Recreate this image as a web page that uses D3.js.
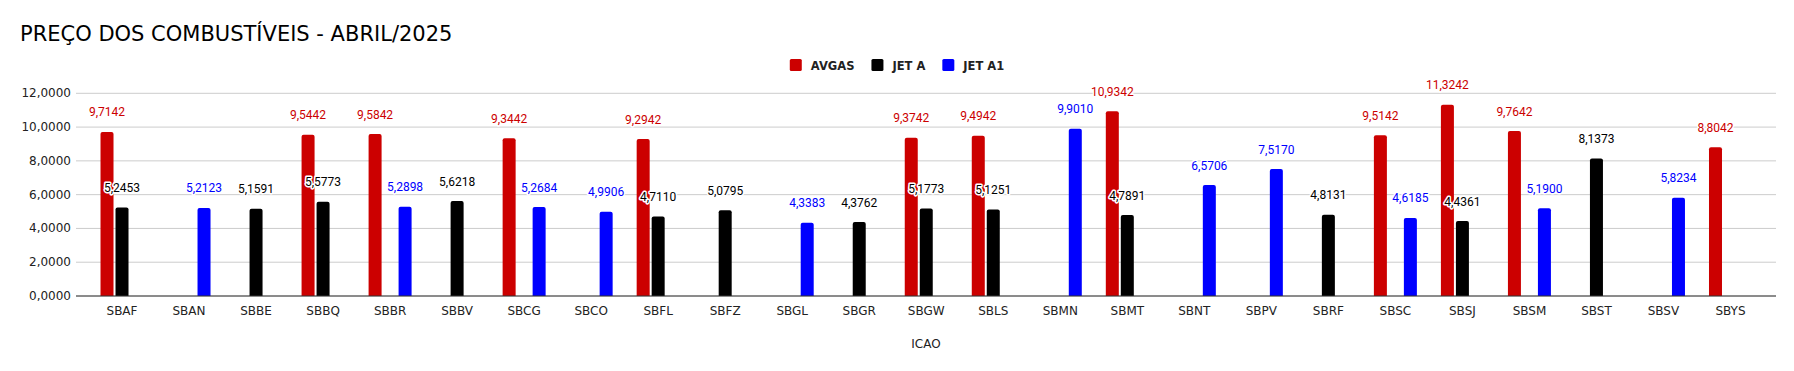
<!DOCTYPE html>
<html>
<head>
<meta charset="utf-8">
<script src="https://cdn.jsdelivr.net/npm/d3@7"></script>
<style>
  body { margin: 0; background: #fff; }
  svg { display: block; }
</style>
</head>
<body>
<script>
// categories (ICAO) and series
var icao = ['SBAF','SBAN','SBBE','SBBQ','SBBR','SBBV','SBCG','SBCO','SBFL','SBFZ','SBGL','SBGR','SBGW',
            'SBLS','SBMN','SBMT','SBNT','SBPV','SBRF','SBSC','SBSJ','SBSM','SBST','SBSV','SBYS'];
var series = ['AVGAS', 'JET A', 'JET A1'];
var colors = ['#cc0000', '#000000', '#0000ff'];

var avgas = [9.7142, null, null, 9.5442, 9.5842, null, 9.3442, null, 9.2942, null, null, null, 9.3742,
             9.4942, null, 10.9342, null, null, null, 9.5142, 11.3242, 9.7642, null, null, 8.8042];
var jetA = [5.2453, null, 5.1591, 5.5773, null, 5.6218, null, null, 4.7110, 5.0795, null, 4.3762, 5.1773,
            5.1251, null, 4.7891, null, null, 4.8131, null, 4.4361, null, 8.1373, null, null];
var jetA1 = [null, 5.2123, null, null, 5.2898, null, 5.2684, 4.9906, null, null, 4.3383, null, null,
             null, 9.9010, null, 6.5706, 7.5170, null, 4.6185, null, 5.1900, null, 5.8234, null];
var yTicks = [0, 2, 4, 6, 8, 10, 12];

var W = 1794, H = 371;
var svg = d3.select('body').append('svg')
  .attr('width', W)
  .attr('height', H);

var ptBR = d3.formatLocale({decimal: ',', thousands: '.', grouping: [3], currency: ['R$', '']});
var fmt = ptBR.format('.4f');

var x0 = d3.scaleBand().domain(icao).range([88.5, 1764]);
var x1 = d3.scaleBand().domain(series).range([-21.5, 21.5]).paddingInner(0.133);
var y = d3.scaleLinear().domain([0, 12]).range([296, 93.3]);

// title
svg.append('text')
  .attr('x', 20).attr('y', 41)
  .style('font-family', 'DejaVu Sans').style('font-size', '21px')
  .attr('fill', '#000')
  .text('PREÇO DOS COMBUSTÍVEIS - ABRIL/2025');

// gridlines + y labels
svg.append('g').selectAll('line').data(yTicks).enter().append('line')
  .attr('x1', 76).attr('x2', 1776)
  .attr('y1', function(d) { return y(d); })
  .attr('y2', function(d) { return y(d); })
  .attr('stroke', '#cccccc').attr('stroke-width', 1);

svg.append('g').selectAll('text').data(yTicks).enter().append('text')
  .attr('x', 71)
  .attr('y', function(d) { return y(d) + 4; })
  .attr('text-anchor', 'end')
  .style('font-family', 'DejaVu Sans').style('font-size', '12px')
  .attr('fill', '#222')
  .text(function(d) { return fmt(d); });

// bars
var rows = [];
[avgas, jetA, jetA1].forEach(function(vals, si) {
  vals.forEach(function(v, i) {
    if (v != null) rows.push({cat: icao[i], s: series[si], color: colors[si], v: v});
  });
});

var barW = x1.bandwidth();
var barPath = function(d) {
  var xl = x0(d.cat) + x0.bandwidth() / 2 + x1(d.s);
  var yt = y(d.v), yb = y(0), r = 2;
  return 'M' + xl + ',' + yb +
    'V' + (yt + r) +
    'Q' + xl + ',' + yt + ' ' + (xl + r) + ',' + yt +
    'H' + (xl + barW - r) +
    'Q' + (xl + barW) + ',' + yt + ' ' + (xl + barW) + ',' + (yt + r) +
    'V' + yb + 'Z';
};

svg.append('g').selectAll('path').data(rows).enter().append('path')
  .attr('d', barPath)
  .attr('fill', function(d) { return d.color; });

// baseline
svg.append('line')
  .attr('x1', 76).attr('x2', 1776)
  .attr('y1', y(0)).attr('y2', y(0))
  .attr('stroke', '#333').attr('stroke-width', 1.2);

// x labels
svg.append('g').selectAll('text').data(icao).enter().append('text')
  .attr('x', function(d) { return x0(d) + x0.bandwidth() / 2; })
  .attr('y', 315)
  .attr('text-anchor', 'middle')
  .style('font-family', 'DejaVu Sans').style('font-size', '12px')
  .attr('fill', '#222')
  .text(function(d) { return d; });

svg.append('text')
  .attr('x', 926).attr('y', 348)
  .attr('text-anchor', 'middle')
  .style('font-family', 'DejaVu Sans').style('font-size', '12px')
  .attr('fill', '#222')
  .text('ICAO');

// data labels with white halo
svg.append('g').selectAll('text').data(rows).enter().append('text')
  .attr('x', function(d) { return x0(d.cat) + x0.bandwidth() / 2 + x1(d.s) + barW / 2; })
  .attr('y', function(d) { return y(d.v) - 15.5; })
  .attr('text-anchor', 'middle')
  .style('font-family', 'Roboto').style('font-size', '12px')
  .style('paint-order', 'stroke')
  .attr('stroke', '#fff').attr('stroke-width', 3).attr('stroke-linejoin', 'round')
  .attr('fill', function(d) { return d.color; })
  .text(function(d) { return fmt(d.v); });

// legend
var legend = svg.append('g');
var lx = 0;
series.forEach(function(s, i) {
  var g = legend.append('g').attr('transform', 'translate(' + lx + ',0)');
  g.append('rect')
    .attr('x', 0).attr('y', 59).attr('width', 12).attr('height', 12)
    .attr('rx', 1.5)
    .attr('fill', colors[i]);
  var t = g.append('text')
    .attr('x', 21).attr('y', 70)
    .style('font-family', 'DejaVu Sans').style('font-size', '11.5px').style('font-weight', 'bold')
    .attr('fill', '#222')
    .text(s);
  lx += 21 + t.node().getComputedTextLength() + 17;
});
var legW = lx - 17;
legend.attr('transform', 'translate(' + (897 - legW / 2) + ',0)');
</script>
</body>
</html>
